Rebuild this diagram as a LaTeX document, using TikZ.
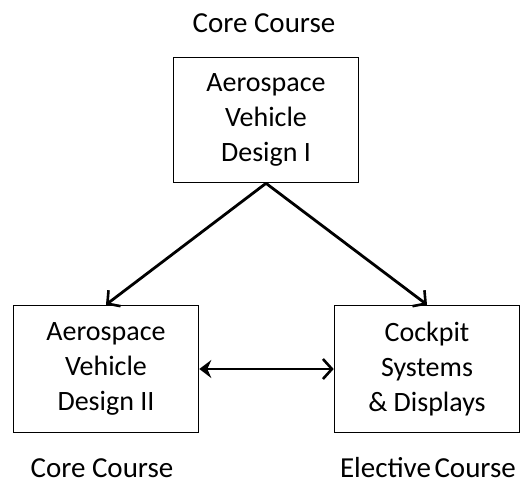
\documentclass[tikz,border=0pt]{standalone}
\usepackage{fontspec}
\setmainfont{Carlito}
\usetikzlibrary{arrows.meta}
\begin{document}
\begin{tikzpicture}[x=1pt,y=-1pt,
  course/.style={draw, line width=1.6pt, minimum width=185pt, align=center,
    font=\fontsize{28}{35}\selectfont, inner sep=0pt},
  tag/.style={font=\fontsize{29}{34}\selectfont, anchor=base, inner sep=0pt},
  link/.style={line width=2.8pt, -{Straight Barb[length=9pt,width=20pt,line width=2.6pt]}},
  both/.style={line width=2.8pt, {Stealth[length=12pt,width=18pt,inset=4pt]}-{Straight Barb[length=9pt,width=20pt,line width=2.6pt]}}]
\useasboundingbox (0,0) rectangle (520,483);
\node[course, minimum height=125pt] (avd1) at (266,120) {Aerospace\\Vehicle\\Design I};
\node[course, minimum height=127pt] (avd2) at (106,369) {Aerospace\\Vehicle\\Design II};
\node[course, minimum height=127pt] (cock) at (427,369) {Cockpit\\Systems\\\& Displays};
\node[tag] (t1) at (264,32) {Core Course};
\node[tag] (t2) at (102,477) {Core Course};
\node[tag] (t3) at (428,477) {Elective\hspace{-3pt} Course};
\draw[link] (avd1.south) -- (avd2.north);
\draw[link] (avd1.south) -- (cock.north);
\draw[both] (avd2.east) -- (cock.west);
\end{tikzpicture}
\end{document}
